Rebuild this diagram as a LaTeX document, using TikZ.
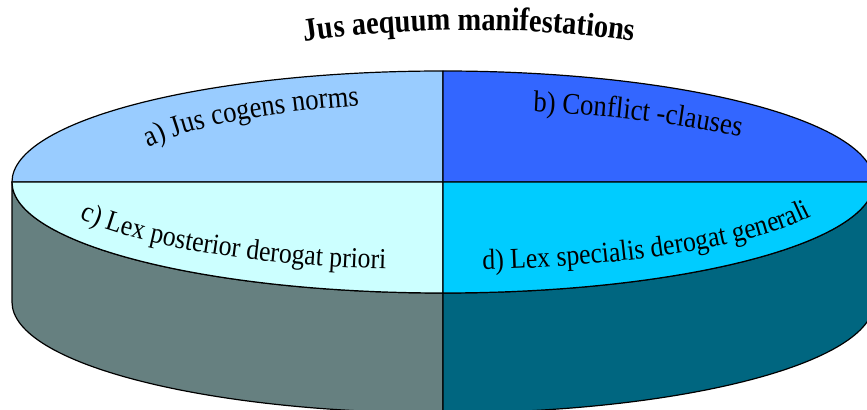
\documentclass[tikz,border=0pt]{standalone}
\usepackage{fontspec}
\setmainfont{Liberation Serif}
\newfontfamily\pieserif[FakeStretch=0.89]{Liberation Serif}
\newfontfamily\pietitleserif[FakeStretch=0.87]{Liberation Serif}
\usetikzlibrary{decorations.text}
\definecolor{cogens}{HTML}{99CCFF}
\definecolor{conflict}{HTML}{3366FF}
\definecolor{posterior}{HTML}{CCFFFF}
\definecolor{specialis}{HTML}{00CCFF}
\definecolor{sideleft}{HTML}{668080}
\definecolor{sideright}{HTML}{006680}
\newcommand{\pietitlefont}{\pietitleserif\bfseries\fontsize{24.5}{24.5}\selectfont}
\newcommand{\pielabelfont}{\pieserif\fontsize{22.5}{22.5}\selectfont}
\newcommand{\piefrontfont}{\pieserif\fontsize{21.7}{21.7}\selectfont}
\tikzset{
	pieface/.style={draw=black, line width=0.9pt, line join=round},
	pietext/.style={decorate, decoration={text along path, text align=left, text={#1}}}
}

\begin{document}
\begin{tikzpicture}[x=0.75pt, y=0.75pt]
	\useasboundingbox (0,0) rectangle (867,410);
	\clip (0,0) rectangle (867,410);
	\filldraw[pieface, fill=sideleft] (12,228) -- (12,108) arc[start angle=180, end angle=270, x radius=431, y radius=111] -- (443,117) arc[start angle=270, end angle=180, x radius=431, y radius=111] -- cycle;
	\filldraw[pieface, fill=sideright] (443,117) -- (443,-3) arc[start angle=270, end angle=360, x radius=431, y radius=111] -- (874,228) arc[start angle=0, end angle=-90, x radius=431, y radius=111] -- cycle;
	\filldraw[pieface, fill=cogens] (443,228) -- (12,228) arc[start angle=180, end angle=90, x radius=431, y radius=111] -- cycle;
	\filldraw[pieface, fill=conflict] (443,228) -- (443,339) arc[start angle=90, end angle=0, x radius=431, y radius=111] -- cycle;
	\filldraw[pieface, fill=posterior] (443,228) -- (12,228) arc[start angle=180, end angle=270, x radius=431, y radius=111] -- cycle;
	\filldraw[pieface, fill=specialis] (443,228) -- (443,117) arc[start angle=270, end angle=360, x radius=431, y radius=111] -- cycle;

	\path[pietext={|\pietitlefont|Jus aequum manifestations}] (304.9,368.4) arc[start angle=123.4, end angle=30, x radius=300, y radius=70];
	\path[pietext={|\pielabelfont|a) Jus cogens norms}] (148.6,262.6) arc[start angle=153.5, end angle=80, x radius=330, y radius=80];
	\path[pietext={|\pielabelfont|b) Conflict -clauses}] (533,298) arc[start angle=76.3, end angle=20, x radius=380, y radius=72];
	\path[pietext={|\piefrontfont|c) Lex posterior derogat priori}] (79.9,191.1) arc[start angle=204.8, end angle=300, x radius=400, y radius=88];
	\path[pietext={|\piefrontfont|d) Lex specialis derogat generali}] (482.7,140.4) arc[start angle=275.7, end angle=370, x radius=400, y radius=88];
\end{tikzpicture}
\end{document}
